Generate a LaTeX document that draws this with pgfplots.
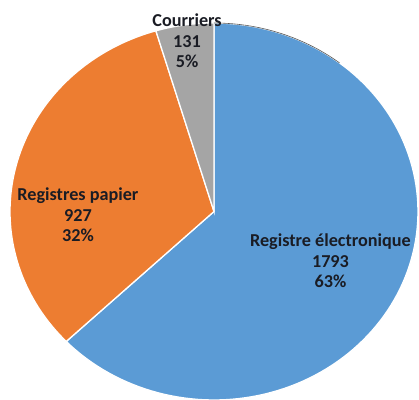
\documentclass[border=0pt]{standalone}
\usepackage{pgfplots}
\pgfplotsset{compat=1.18}
\usepackage{fontspec}
\setmainfont{Carlito}
\definecolor{cBlue}{HTML}{5B9BD5}
\definecolor{cOrange}{HTML}{ED7D31}
\definecolor{cGray}{HTML}{A5A5A5}
\definecolor{cText}{HTML}{1A1C24}
% data
\def\vElec{1793}
\def\vPap{927}
\def\vCour{131}
\pgfmathsetmacro{\vTot}{\vElec+\vPap+\vCour}
\pgfmathsetmacro{\aA}{90}
\pgfmathsetmacro{\aB}{90-360*(\vElec/\vTot)}
\pgfmathsetmacro{\aC}{\aB-360*(\vPap/\vTot)}
\pgfmathsetmacro{\aD}{\aC-360*(\vCour/\vTot)}
\begin{document}
\begin{tikzpicture}
\begin{axis}[
  name=ax,
  scale only axis, width=419pt, height=400pt,
  xmin=-1.049, xmax=1.005, ymin=-1.0, ymax=1.122,
  hide axis, clip=true,
]
\addplot[fill=cBlue, draw=white, line width=1.3pt, domain=\aB:\aA, samples=120, variable=\t]
  ({cos(\t)},{sin(\t)}) -- (axis cs:0,0) -- cycle;
\addplot[fill=cOrange, draw=white, line width=1.3pt, domain=\aC:\aB, samples=80, variable=\t]
  ({cos(\t)},{sin(\t)}) -- (axis cs:0,0) -- cycle;
\addplot[fill=cGray, draw=white, line width=1.3pt, domain=\aD:\aC, samples=20, variable=\t]
  ({cos(\t)},{sin(\t)}) -- (axis cs:0,0) -- cycle;
\addplot[draw=black!65, line width=0.6pt, domain=52:90, samples=30, variable=\t]
  ({cos(\t)},{sin(\t)});
\end{axis}
\begin{axis}[
  scale only axis, width=419pt, height=400pt,
  xmin=-1.049, xmax=1.005, ymin=-1.0, ymax=1.122,
  hide axis, clip=false,
]
\node[align=center, font=\fontsize{18.2}{20.5}\selectfont\bfseries, text=cText] at (axis cs:-0.132,0.904) {Courriers\\\vCour\\5\%};
\node[align=center, font=\fontsize{18.2}{20.5}\selectfont\bfseries, text=cText] at (axis cs:-0.667,-0.019) {Registres papier\\\vPap\\32\%};
\node[align=center, font=\fontsize{18.2}{20.5}\selectfont\bfseries, text=cText] at (axis cs:0.571,-0.261) {Registre électronique\\\vElec\\63\%};
\end{axis}
\pgfresetboundingbox
\path (ax.south west) rectangle (ax.north east);
\end{tikzpicture}
\end{document}
